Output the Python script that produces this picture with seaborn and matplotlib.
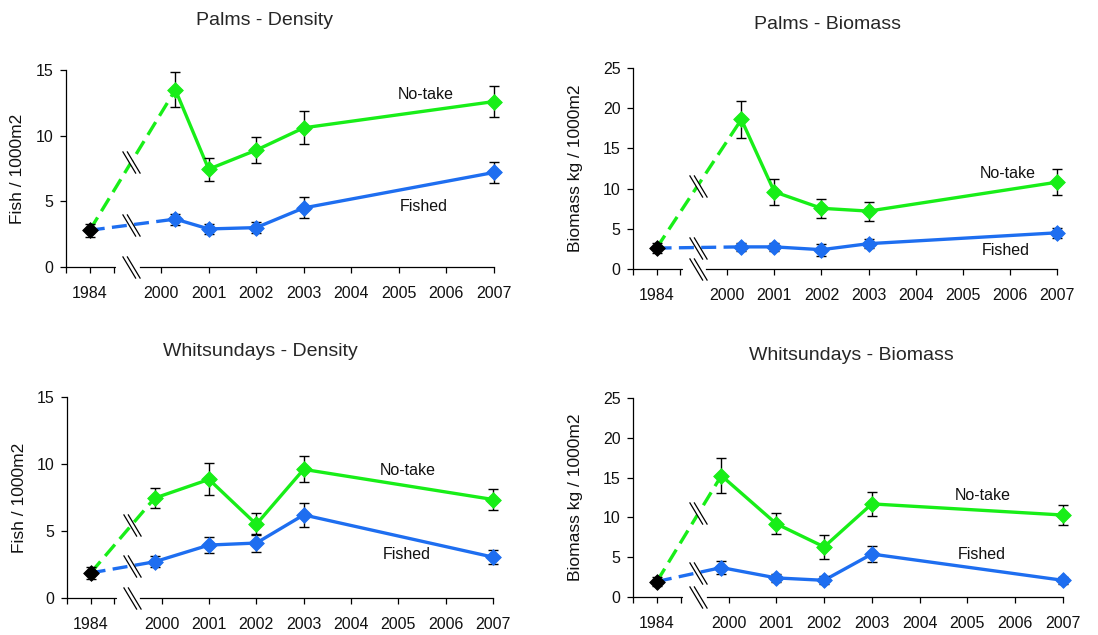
import numpy as np
import pandas as pd
import matplotlib
matplotlib.use("Agg")
import matplotlib.pyplot as plt
from matplotlib.path import Path
import seaborn as sns

# survey years (Palms 2000 survey was late in the year, Whitsundays early)
palms_years = [2000.3, 2001, 2002, 2003, 2007]
whit_years = [1999.85, 2001, 2002, 2003, 2007]
tick_years = [2000, 2001, 2002, 2003, 2004, 2005, 2006, 2007]

# 1984 baseline (single value, before zoning)
palms_density_1984, palms_density_1984_err = 2.8, 0.5
palms_biomass_1984, palms_biomass_1984_err = 2.6, 0.6
whit_density_1984, whit_density_1984_err = 1.87, 0.42
whit_biomass_1984, whit_biomass_1984_err = 1.95, 0.6

palms_density_notake = [13.5, 7.45, 8.9, 10.6, 12.6]
palms_density_notake_err = [1.35, 0.87, 1.0, 1.25, 1.15]
palms_density_fished = [3.65, 2.9, 3.0, 4.5, 7.2]
palms_density_fished_err = [0.42, 0.4, 0.43, 0.8, 0.8]

palms_biomass_notake = [18.6, 9.6, 7.55, 7.2, 10.8]
palms_biomass_notake_err = [2.3, 1.6, 1.2, 1.17, 1.65]
palms_biomass_fished = [2.75, 2.75, 2.4, 3.15, 4.5]
palms_biomass_fished_err = [0.5, 0.5, 0.75, 0.6, 0.65]

whit_density_notake = [7.45, 8.85, 5.5, 9.6, 7.35]
whit_density_notake_err = [0.75, 1.2, 0.82, 0.97, 0.75]
whit_density_fished = [2.7, 3.95, 4.1, 6.2, 3.05]
whit_density_fished_err = [0.4, 0.57, 0.64, 0.87, 0.5]

whit_biomass_notake = [15.25, 9.2, 6.3, 11.7, 10.3]
whit_biomass_notake_err = [2.2, 1.3, 1.5, 1.5, 1.3]
whit_biomass_fished = [3.7, 2.4, 2.1, 5.4, 2.1]
whit_biomass_fished_err = [0.8, 0.5, 0.5, 1.05, 0.45]

GREEN = '#18ee18'
BLUE = '#1e6ef0'

sns.set_style("ticks")
plt.rcParams['font.family'] = ['Liberation Sans', 'DejaVu Sans']


def xpos(year):
    # broken axis: 1984 sits 1.5 year-widths left of 2000
    year = np.asarray(year, dtype=float)
    return np.where(year < 1990, -1.5, year - 2000)


BREAK_X = -0.63
slash_lines = Path([(-0.4, 0.5), (0.2, -0.5), (-0.2, 0.5), (0.4, -0.5)],
                   [Path.MOVETO, Path.LINETO, Path.MOVETO, Path.LINETO])
slash_fill = Path([(-0.4, 0.5), (-0.2, 0.5), (0.4, -0.5), (0.2, -0.5), (-0.4, 0.5)],
                  [Path.MOVETO, Path.LINETO, Path.LINETO, Path.LINETO, Path.CLOSEPOLY])


def draw_break(ax, x, y):
    ax.plot([x], [y], marker=slash_fill, ms=16, mfc='white', mec='none',
            ls='none', zorder=5, clip_on=False)
    ax.plot([x], [y], marker=slash_lines, ms=16, mfc='none', mec='black',
            mew=0.9, ls='none', zorder=6, clip_on=False)


def panel(ax, years, base, base_err, notake, notake_err, fished, fished_err,
          ymax, ylabel, notake_xy, fished_xy):
    xs = xpos(years)
    x0 = float(xpos([1984])[0])
    for vals, errs, col in [(notake, notake_err, GREEN), (fished, fished_err, BLUE)]:
        df = pd.DataFrame({'x': xs, 'y': vals})
        # dashed link from 1984 to the first zoned survey
        link = pd.DataFrame({'x': [x0, xs[0]], 'y': [base, vals[0]]})
        sns.lineplot(data=link, x='x', y='y', ax=ax, color=col, lw=2.4,
                     linestyle=(0, (4.5, 2.2)), sort=False, zorder=2)
        sns.lineplot(data=df, x='x', y='y', ax=ax, color=col, lw=2.4,
                     sort=False, zorder=2)
        ax.errorbar(xs, vals, yerr=errs, fmt='none', ecolor='black',
                    elinewidth=1.0, capsize=3.8, capthick=1.0, zorder=3,
                    clip_on=False)
        sns.scatterplot(data=df, x='x', y='y', ax=ax, color=col, marker='D',
                        s=64, edgecolor=col, linewidth=0.6, zorder=4,
                        clip_on=False)
        # break mark on the dashed link
        yb = np.interp(BREAK_X, [x0, xs[0]], [base, vals[0]])
        draw_break(ax, BREAK_X, yb)

    ax.errorbar([x0], [base], yerr=[base_err], fmt='none', ecolor='black',
                elinewidth=1.0, capsize=3.8, capthick=1.0, zorder=3)
    ax.scatter([x0], [base], marker='D', s=64, color='black',
               edgecolor='black', linewidth=0.6, zorder=4)

    ax.set_xlim(-2, 7)
    ax.set_ylim(0, ymax)
    ax.set_yticks(np.arange(0, ymax + 1, 5))
    ticks = [-2, -1.5, -1] + list(xpos(tick_years))
    ax.set_xticks(ticks)
    ax.set_xticklabels(['', '1984', ''] + [str(t) for t in tick_years])
    ax.tick_params(axis='both', direction='out', length=4, width=0.9,
                   labelsize=11.5, color='black', labelcolor='#111111')
    ax.tick_params(axis='x', pad=10)
    ax.tick_params(axis='y', pad=5)
    sns.despine(ax=ax)
    for s in ['left', 'bottom']:
        ax.spines[s].set_linewidth(0.9)
        ax.spines[s].set_color('black')
    # broken x axis
    ax.spines['bottom'].set_bounds(-0.45, 7)
    ax.plot([-2, -0.97], [0, 0], color='black', lw=0.9, clip_on=False,
            transform=ax.get_xaxis_transform(), zorder=5)
    draw_break(ax, BREAK_X, 0)

    ax.set_xlabel('')
    ax.set_ylabel(ylabel, fontsize=12.5, color='#111111')
    ax.text(*notake_xy, 'No-take', fontsize=11.5, ha='center', va='center',
            color='#111111')
    ax.text(*fished_xy, 'Fished', fontsize=11.5, ha='center', va='center',
            color='#111111')


fig = plt.figure(figsize=(10.98, 6.35), dpi=100)
ax1 = fig.add_axes([0.0601, 0.5795, 0.3898, 0.3102])
ax2 = fig.add_axes([0.5765, 0.5764, 0.3862, 0.3165])
ax3 = fig.add_axes([0.0610, 0.0583, 0.3880, 0.3165])
ax4 = fig.add_axes([0.5765, 0.0598, 0.3916, 0.3134])

panel(ax1, palms_years, palms_density_1984, palms_density_1984_err,
      palms_density_notake, palms_density_notake_err,
      palms_density_fished, palms_density_fished_err,
      15, 'Fish / 1000m2', (5.56, 13.1), (5.52, 4.6))
panel(ax2, palms_years, palms_biomass_1984, palms_biomass_1984_err,
      palms_biomass_notake, palms_biomass_notake_err,
      palms_biomass_fished, palms_biomass_fished_err,
      25, 'Biomass kg / 1000m2', (5.96, 11.9), (5.92, 2.33))
panel(ax3, whit_years, whit_density_1984, whit_density_1984_err,
      whit_density_notake, whit_density_notake_err,
      whit_density_fished, whit_density_fished_err,
      15, 'Fish / 1000m2', (5.2, 9.5), (5.17, 3.27))
panel(ax4, whit_years, whit_biomass_1984, whit_biomass_1984_err,
      whit_biomass_notake, whit_biomass_notake_err,
      whit_biomass_fished, whit_biomass_fished_err,
      25, 'Biomass kg / 1000m2', (5.33, 12.8), (5.29, 5.38))

for ax in (ax1, ax3):
    ax.yaxis.set_label_coords(-0.095, 0.5)
for ax in (ax2, ax4):
    ax.yaxis.set_label_coords(-0.117, 0.5)

fig.text(0.2413, 0.9685, 'Palms - Density', fontsize=14, ha='center', va='center')
fig.text(0.7540, 0.9620, 'Palms - Biomass', fontsize=14, ha='center', va='center')
fig.text(0.2368, 0.4457, 'Whitsundays - Density', fontsize=14, ha='center', va='center')
fig.text(0.7750, 0.4394, 'Whitsundays - Biomass', fontsize=14, ha='center', va='center')

fig.savefig('out.png', dpi=100, facecolor='white')
